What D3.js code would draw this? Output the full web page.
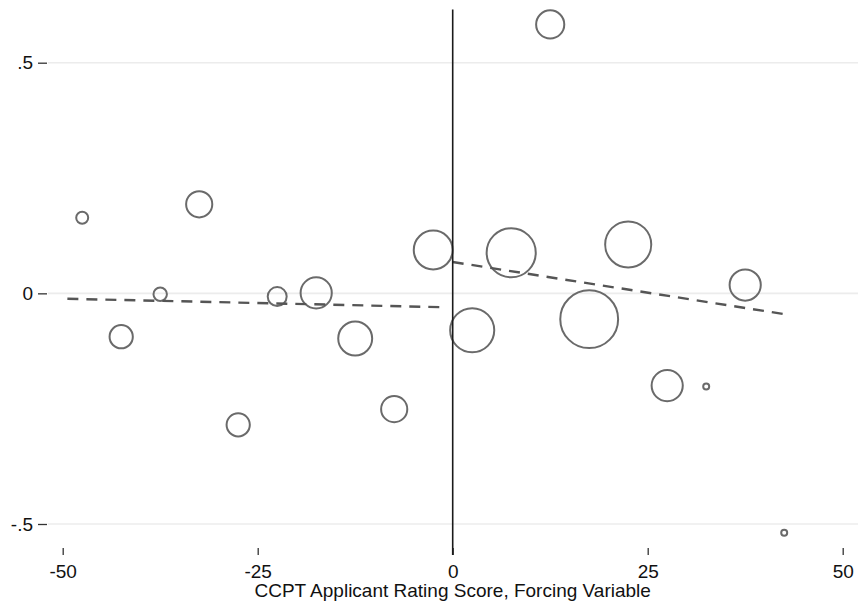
<!DOCTYPE html>
<html>
<head>
<meta charset="utf-8">
<script src="https://cdn.jsdelivr.net/npm/d3@7"></script>
<style>
  html, body { margin: 0; padding: 0; background: #fff; }
  svg { display: block; font-family: "Liberation Sans", Arial, sans-serif; }
</style>
</head>
<body>
<svg id="chart" width="858" height="607"></svg>
<script>
// Bin midpoints of the forcing variable (5-point bins)
const binCenters = [-47.5, -42.5, -37.5, -32.5, -27.5, -22.5, -17.5, -12.5, -7.5, -2.5,
                    2.5, 7.5, 12.5, 17.5, 22.5, 27.5, 32.5, 37.5, 42.5];
// Mean outcome in each bin
const binMeans = [0.164, -0.094, -0.002, 0.193, -0.285, -0.007, 0.001, -0.098, -0.251, 0.094,
                  -0.080, 0.088, 0.583, -0.056, 0.106, -0.200, -0.202, 0.018, -0.519];
// Number of observations in each bin (marker area)
const binCounts = [4, 15, 5, 19, 15, 10, 27, 32, 19, 42,
                   54, 67, 22, 93, 59, 27, 1, 27, 1];

// Linear fits on each side of the cutoff: [intercept, slope], over [from, to]
const fitLeftCoef = [-0.0305, -0.00038];
const fitLeftRange = [-49.4, -1.3];
const fitRightCoef = [0.068, -0.00266];
const fitRightRange = [0, 43.2];

const xTicks = [-50, -25, 0, 25, 50];
const yTicks = [0.5, 0, -0.5];
const yTickLabels = [".5", "0", "-.5"];
const xTitle = "CCPT Applicant Rating Score, Forcing Variable";
const cutoff = 0;

const svg = d3.select("#chart");

const x = d3.scaleLinear().domain([-50, 50]).range([62.7, 842.7]);
const y = d3.scaleLinear().domain([-0.5, 0.5]).range([524, 62.7]);
const r = d3.scaleSqrt().domain([0, 100]).range([0, 30]);

const fontSize = 19;

// Horizontal grid lines
svg.append("g")
  .selectAll("line")
  .data(yTicks)
  .join("line")
  .attr("x1", 48).attr("x2", 858)
  .attr("y1", d => y(d)).attr("y2", d => y(d))
  .attr("stroke", "#ececec")
  .attr("stroke-width", 1.6);

// Y axis (ticks and labels only)
const yAxis = d3.axisLeft(y)
  .tickValues(yTicks)
  .tickFormat((d, i) => yTickLabels[i])
  .tickSize(9)
  .tickPadding(5);
const gy = svg.append("g").attr("transform", "translate(47,0)").call(yAxis);
gy.select(".domain").remove();
gy.selectAll(".tick line").attr("stroke", "#333").attr("stroke-width", 1.3);
gy.selectAll(".tick text")
  .attr("font-size", fontSize)
  .attr("fill", "#111")
  .attr("font-family", "Liberation Sans, Arial, sans-serif");

// X axis (ticks and labels only)
const xAxis = d3.axisBottom(x)
  .tickValues(xTicks)
  .tickFormat(d => String(d))
  .tickSize(7)
  .tickPadding(10);
const gx = svg.append("g").attr("transform", "translate(0,548)").call(xAxis);
gx.select(".domain").remove();
gx.selectAll(".tick line").attr("stroke", "#333").attr("stroke-width", 1.3);
gx.selectAll(".tick text")
  .attr("font-size", fontSize)
  .attr("fill", "#111")
  .attr("font-family", "Liberation Sans, Arial, sans-serif");

// X axis title
svg.append("text")
  .attr("x", x(0))
  .attr("y", 597)
  .attr("text-anchor", "middle")
  .attr("font-size", fontSize)
  .attr("fill", "#111")
  .text(xTitle);

// Binned means, sized by count
svg.append("g")
  .selectAll("circle")
  .data(binCenters.map((c, i) => ({ x: c, y: binMeans[i], n: binCounts[i] })))
  .join("circle")
  .attr("cx", d => x(d.x))
  .attr("cy", d => y(d.y))
  .attr("r", d => r(d.n))
  .attr("fill", "none")
  .attr("stroke", "#6a6a6a")
  .attr("stroke-width", 2);

// Fitted lines
const line = d3.line().x(d => x(d[0])).y(d => y(d[1]));
[[fitLeftCoef, fitLeftRange], [fitRightCoef, fitRightRange]].forEach(([coef, range]) => {
  const pts = range.map(v => [v, coef[0] + coef[1] * v]);
  svg.append("path")
    .attr("d", line(pts))
    .attr("fill", "none")
    .attr("stroke", "#555")
    .attr("stroke-width", 2.4)
    .attr("stroke-dasharray", "11,8");
});

// Cutoff line
svg.append("line")
  .attr("x1", x(cutoff)).attr("x2", x(cutoff))
  .attr("y1", 9.5).attr("y2", 555)
  .attr("stroke", "#1a1a1a")
  .attr("stroke-width", 1.6);
</script>
</body>
</html>
